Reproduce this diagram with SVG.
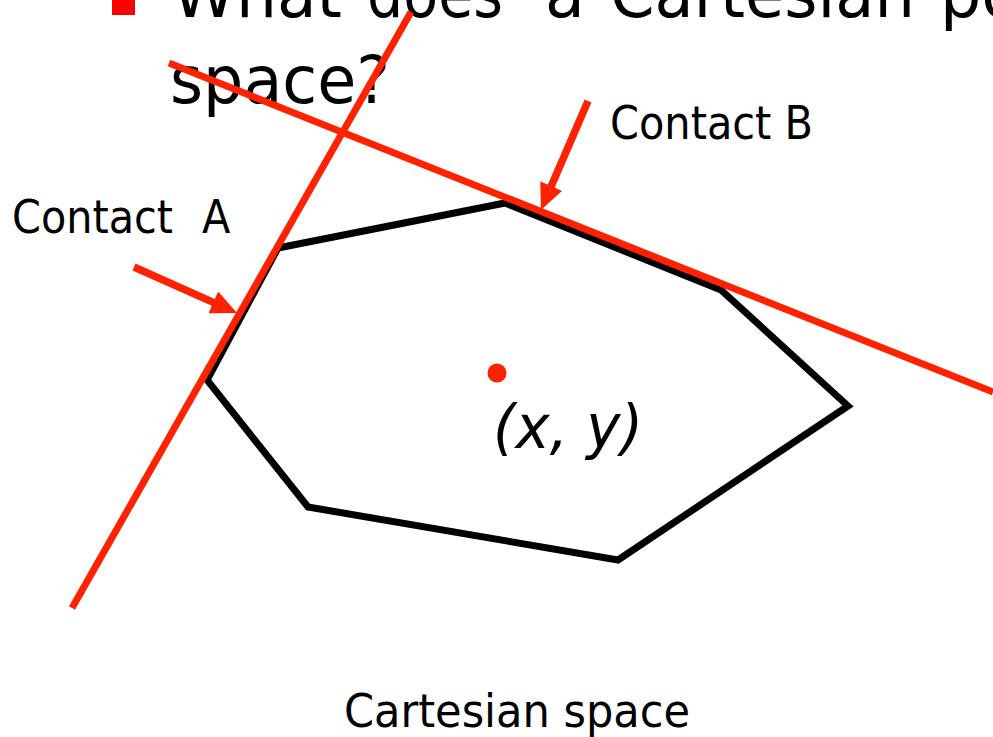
<svg xmlns="http://www.w3.org/2000/svg" width="993" height="737" viewBox="0 0 993 737">
<style>
.t{font-family:"DejaVu Sans Condensed","DejaVu Sans",sans-serif;fill:#000}
.h{font-family:"DejaVu Sans",sans-serif;fill:#000;font-size:65px}
.red{stroke:#ff2200;fill:none;stroke-width:7}
.arr{stroke:#ff2200;fill:none;stroke-width:7.5}
.poly{stroke:#000;fill:none;stroke-width:7;stroke-linejoin:miter}
</style>
<defs>
<marker id="ah" markerUnits="userSpaceOnUse" markerWidth="26" markerHeight="24" viewBox="0 0 26 24" refX="11" refY="12" orient="auto">
<path d="M0,0 L26,12 L0,24 z" fill="#ff2200"/>
</marker>
</defs>
<rect width="993" height="737" fill="#fff"/>
<g id="title">
<rect x="112" y="-8" width="23" height="23" fill="#ff0000"/>
<text class="h" y="17"><tspan x="172" textLength="170" lengthAdjust="spacingAndGlyphs">What</tspan><tspan x="367" textLength="136" lengthAdjust="spacingAndGlyphs">does</tspan><tspan x="545">a</tspan><tspan x="610" textLength="305" lengthAdjust="spacingAndGlyphs">Cartesian</tspan><tspan x="940">po</tspan></text>
<text class="h" x="170" y="103" textLength="220" lengthAdjust="spacingAndGlyphs">space?</text>
</g>
<g id="polygon">
<polygon class="poly" points="278,248 505,203 721,290 848,406 618,560 308,507 207,380"/>
</g>
<g id="point">
<circle cx="497" cy="373" r="9.5" fill="#ff2200"/>
<text class="t" font-size="60" font-style="italic" x="493" y="448" textLength="150" lengthAdjust="spacingAndGlyphs">(x, y)</text>
</g>
<g id="contactA">
<text class="t" font-size="46" y="233"><tspan x="12" textLength="161" lengthAdjust="spacingAndGlyphs">Contact</tspan><tspan x="202">A</tspan></text>
</g>
<g id="contactB">
<text class="t" font-size="46" x="610" y="139" textLength="203" lengthAdjust="spacingAndGlyphs">Contact B</text>
</g>
<g id="connectors">
<line class="red" x1="72" y1="608" x2="411" y2="12"/>
<line class="red" x1="169" y1="63" x2="993" y2="392"/>
<line class="arr" x1="134" y1="267" x2="223.3" y2="306.9" marker-end="url(#ah)"/>
<line class="arr" x1="588" y1="101" x2="546.9" y2="196.2" marker-end="url(#ah)"/>
</g>
<g id="caption">
<text class="t" font-size="46" x="344" y="727" textLength="346" lengthAdjust="spacingAndGlyphs">Cartesian space</text>
</g>
</svg>
